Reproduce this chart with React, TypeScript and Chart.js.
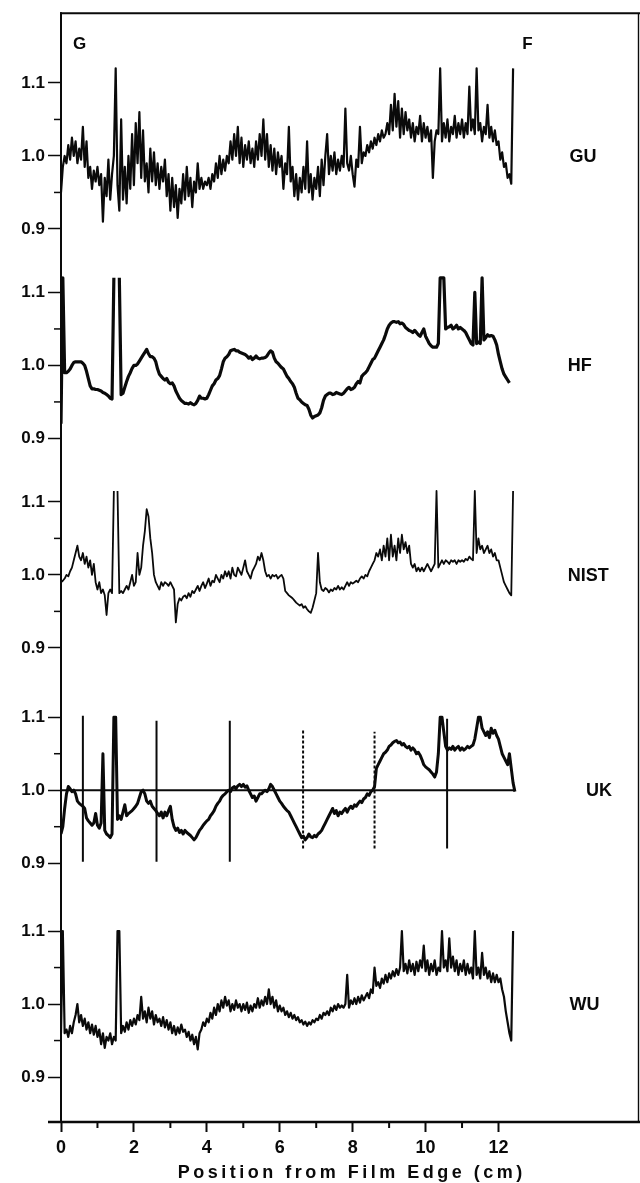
import React, { useEffect, useRef } from 'react';
import { Chart, registerables } from 'chart.js';

Chart.register(...registerables);

const STEP_CM = 0.05;

const GU_VALUES = [
  0.95, 0.985, 1.0, 0.99, 1.015, 0.995, 1.025, 1.0, 1.02, 0.99, 1.01, 0.995, 1.04, 0.985, 1.02, 0.97, 0.985, 0.955, 0.98, 0.965,
  0.985, 0.96, 0.975, 0.91, 0.97, 0.945, 0.995, 0.94, 0.975, 1.0, 1.12, 0.96, 0.925, 1.05, 0.94, 0.985, 0.935, 1.0, 0.955, 1.03,
  0.96, 1.045, 0.99, 1.06, 0.97, 1.035, 0.965, 0.99, 0.95, 1.01, 0.965, 1.005, 0.96, 0.99, 0.955, 0.985, 0.965, 0.995, 0.945, 0.975,
  0.925, 0.97, 0.93, 0.96, 0.915, 0.955, 0.935, 0.975, 0.94, 0.985, 0.945, 0.97, 0.93, 0.965, 0.95, 0.99, 0.955, 0.97, 0.955, 0.965,
  0.96, 0.97, 0.955, 0.975, 0.965, 0.99, 0.97, 1.0, 0.975, 0.995, 0.98, 1.0, 0.99, 1.02, 0.995, 1.03, 1.0, 1.04, 0.99, 1.025,
  0.985, 1.015, 0.995, 1.02, 0.99, 1.01, 0.985, 1.02, 0.995, 1.03, 1.0, 1.05, 0.995, 1.03, 0.985, 1.015, 0.98, 1.01, 0.975, 1.005,
  0.985, 1.0, 0.955, 0.99, 0.975, 1.04, 0.965, 0.985, 0.945, 0.975, 0.94, 0.97, 0.95, 0.985, 0.955, 1.02, 0.95, 0.975, 0.94, 0.97,
  0.955, 0.985, 0.945, 0.995, 0.96, 1.0, 1.03, 0.975, 1.0, 0.98, 1.005, 0.975, 0.995, 0.98, 1.0, 0.985, 1.065, 0.99, 0.98, 1.0,
  0.975, 0.958, 0.995, 0.985, 1.04, 0.99, 1.005, 1.0, 1.015, 1.005, 1.02, 1.01, 1.025, 1.015, 1.03, 1.02, 1.035, 1.025, 1.03, 1.045,
  1.03, 1.07, 1.035, 1.085, 1.04, 1.075, 1.025, 1.065, 1.03, 1.06, 1.035, 1.05, 1.025, 1.045, 1.02, 1.04, 1.03, 1.055, 1.02, 1.045,
  1.025, 1.04, 1.02, 1.035, 0.97, 1.02, 1.035, 1.03, 1.12, 1.02, 1.045, 1.025, 1.05, 1.02, 1.04, 1.03, 1.055, 1.025, 1.045, 1.03,
  1.05, 1.025, 1.045, 1.03, 1.095, 1.035, 1.05, 1.03, 1.12, 1.035, 1.045, 1.02, 1.04, 1.03, 1.07, 1.025, 1.04, 1.02, 1.035, 1.015,
  1.02, 0.995, 1.005, 0.985, 0.99, 0.97, 0.975, 0.962, 1.12, null,
];

const HF_VALUES = [
  0.92, 1.12, 0.99, 0.99, 0.992, 0.995, 1.0, 1.004, 1.005, 1.005, 1.005, 1.005, 1.003, 1.0, 0.992, 0.982, 0.972, 0.968, 0.968, 0.967,
  0.967, 0.966, 0.965, 0.963, 0.962, 0.96, 0.958, 0.955, 0.954, 1.12, null, null, 1.12, 0.96, 0.962, 0.97, 0.978, 0.985, 0.99, 0.996,
  1.0, 1.0, 1.002, 1.006, 1.01, 1.014, 1.018, 1.022, 1.016, 1.012, 1.012, 1.01, 1.005, 0.995, 0.988, 0.985, 0.982, 0.98, 0.982, 0.977,
  0.975, 0.976, 0.972, 0.965, 0.96, 0.955, 0.952, 0.95, 0.948, 0.948, 0.947, 0.949, 0.947, 0.946, 0.948, 0.952, 0.958, 0.955, 0.955, 0.954,
  0.955, 0.96, 0.966, 0.972, 0.975, 0.98, 0.982, 0.986, 0.995, 1.005, 1.01, 1.012, 1.015, 1.02, 1.021, 1.022, 1.02, 1.02, 1.018, 1.017,
  1.016, 1.015, 1.013, 1.01, 1.012, 1.008, 1.01, 1.013, 1.01, 1.009, 1.01, 1.01, 1.011, 1.013, 1.017, 1.02, 1.018, 1.01, 1.005, 1.003,
  1.0, 0.997, 0.995, 0.99, 0.985, 0.982, 0.978, 0.975, 0.97, 0.962, 0.955, 0.953, 0.95, 0.948, 0.946, 0.945, 0.94, 0.932, 0.928, 0.93,
  0.931, 0.932, 0.935, 0.942, 0.952, 0.958, 0.96, 0.962, 0.962, 0.96, 0.961, 0.963, 0.962, 0.961, 0.96, 0.962, 0.965, 0.968, 0.97, 0.967,
  0.968, 0.97, 0.975, 0.978, 0.976, 0.985, 0.988, 0.99, 0.993, 0.998, 1.003, 1.008, 1.01, 1.015, 1.02, 1.025, 1.03, 1.035, 1.042, 1.05,
  1.055, 1.058, 1.06, 1.06, 1.059, 1.06, 1.057, 1.058, 1.056, 1.052, 1.05, 1.048, 1.047, 1.045, 1.048, 1.045, 1.042, 1.04, 1.045, 1.05,
  1.04, 1.035, 1.03, 1.027, 1.025, 1.025, 1.025, 1.03, 1.12, 1.12, 1.12, 1.05, 1.052, 1.053, 1.055, 1.05, 1.052, 1.055, 1.05, 1.052,
  1.05, 1.048, 1.045, 1.04, 1.035, 1.03, 1.028, 1.1, 1.03, 1.032, 1.03, 1.12, 1.035, 1.038, 1.042, 1.04, 1.041, 1.04, 1.035, 1.028,
  1.015, 1.005, 0.995, 0.988, 0.984, 0.98, 0.976, null, null, null,
];

const NIST_VALUES = [
  0.99, 0.992, 0.995, 1.0, 0.998, 1.005, 1.01, 1.02, 1.03, 1.04, 1.025, 1.02, 1.03, 1.015, 1.025, 1.01, 1.02, 1.0, 1.015, 0.99,
  0.98, 0.99, 0.975, 0.98, 0.972, 0.945, 0.975, 0.98, 0.975, 1.115, null, 1.115, 0.975, 0.978, 0.975, 0.98, 0.985, 0.98, 0.99, 1.0,
  0.985, 0.99, 1.03, 1.0, 1.01, 1.04, 1.06, 1.09, 1.08, 1.05, 1.03, 1.0, 0.99, 0.985, 0.98, 0.99, 0.985, 0.99, 0.988, 0.985,
  0.99, 0.985, 0.98, 0.935, 0.96, 0.968, 0.965, 0.97, 0.972, 0.968, 0.975, 0.97, 0.978, 0.975, 0.98, 0.985, 0.978, 0.985, 0.99, 0.982,
  0.988, 0.995, 0.985, 0.992, 0.99, 1.0, 0.995, 0.99, 1.0, 0.995, 1.005, 0.998, 1.005, 0.995, 1.01, 1.0, 0.998, 1.01, 1.005, 1.0,
  1.01, 1.02, 1.005, 1.0, 0.995, 1.005, 1.01, 1.015, 1.025, 1.02, 1.03, 1.02, 1.005, 0.998, 1.0, 0.995, 1.0, 0.998, 1.0, 0.995,
  0.998, 1.0, 0.995, 0.978, 0.975, 0.972, 0.97, 0.968, 0.965, 0.962, 0.96, 0.958, 0.96, 0.955, 0.957, 0.953, 0.95, 0.948, 0.955, 0.965,
  0.975, 1.03, 0.99, 0.98, 0.978, 0.982, 0.98, 0.976, 0.98, 0.978, 0.982, 0.98, 0.985, 0.98, 0.983, 0.98, 0.985, 0.99, 0.985, 0.99,
  0.988, 0.99, 0.992, 0.99, 0.995, 0.998, 0.995, 1.0, 0.998, 1.005, 1.01, 1.015, 1.02, 1.03, 1.025, 1.035, 1.02, 1.04, 1.025, 1.05,
  1.02, 1.055, 1.025, 1.04, 1.02, 1.05, 1.03, 1.055, 1.035, 1.045, 1.03, 1.04, 1.015, 1.01, 1.015, 1.005, 1.01, 1.005, 1.01, 1.005,
  1.01, 1.015, 1.01, 1.005, 1.01, 1.015, 1.115, 1.01, 1.015, 1.02, 1.015, 1.02, 1.018, 1.015, 1.02, 1.018, 1.02, 1.015, 1.02, 1.018,
  1.02, 1.018, 1.022, 1.02, 1.025, 1.022, 1.02, 1.115, 1.03, 1.05, 1.035, 1.04, 1.03, 1.035, 1.04, 1.03, 1.035, 1.025, 1.03, 1.02,
  1.02, 1.01, 1.0, 0.99, 0.985, 0.98, 0.975, 0.972, 1.115, null,
];

const UK_VALUES = [
  0.94, 0.95, 0.975, 0.995, 1.005, 1.002, 0.998, 1.0, 0.995, 0.985, 0.982, 0.98, 0.978, 0.975, 0.962, 0.958, 0.955, 0.952, 0.955, 0.968,
  0.952, 0.948, 0.955, 1.05, 0.945, 0.94, 0.938, 0.935, 0.94, 1.1, 1.1, 0.96, 0.965, 0.96, 0.97, 0.98, 0.965, 0.968, 0.97, 0.972,
  0.975, 0.978, 0.982, 0.99, 0.998, 1.0, 0.995, 0.985, 0.982, 0.985, 0.978, 0.975, 0.972, 0.968, 0.965, 0.97, 0.962, 0.97, 0.965, 0.972,
  0.978, 0.96, 0.95, 0.945, 0.948, 0.942, 0.945, 0.94, 0.945, 0.942, 0.94, 0.938, 0.935, 0.932, 0.935, 0.94, 0.945, 0.948, 0.952, 0.955,
  0.958, 0.96, 0.965, 0.968, 0.972, 0.978, 0.982, 0.985, 0.99, 0.993, 0.995, 0.998, 1.0, 0.998, 1.003, 1.005, 1.002, 1.006, 1.008, 1.005,
  1.008, 1.004, 1.006, 1.0, 0.995, 0.99, 0.992, 0.985, 0.99, 0.995, 0.995, 0.998, 1.0, 0.998, 1.002, 1.008, 1.005, 1.0, 0.995, 0.99,
  0.985, 0.982, 0.978, 0.975, 0.972, 0.97, 0.965, 0.96, 0.955, 0.95, 0.945, 0.94, 0.935, 0.937, 0.932, 0.935, 0.94, 0.936, 0.935, 0.938,
  0.936, 0.94, 0.942, 0.945, 0.95, 0.955, 0.96, 0.965, 0.97, 0.975, 0.968, 0.972, 0.965, 0.97, 0.968, 0.972, 0.975, 0.97, 0.975, 0.978,
  0.975, 0.98, 0.978, 0.982, 0.985, 0.983, 0.988, 0.99, 0.995, 0.993, 0.998, 1.0, 1.005, 1.03, 1.035, 1.04, 1.045, 1.05, 1.052, 1.055,
  1.06, 1.062, 1.065, 1.067, 1.068, 1.065, 1.066, 1.062, 1.064, 1.06, 1.058, 1.06, 1.055, 1.058, 1.055, 1.05, 1.052, 1.048, 1.042, 1.035,
  1.032, 1.03, 1.028, 1.025, 1.022, 1.018, 1.025, 1.05, 1.1, 1.1, 1.08, 1.06, 1.055, 1.058, 1.056, 1.06, 1.055, 1.058, 1.06, 1.055,
  1.058, 1.055, 1.057, 1.06, 1.058, 1.06, 1.062, 1.07, 1.085, 1.1, 1.1, 1.085, 1.08, 1.075, 1.08, 1.072, 1.085, 1.078, 1.082, 1.075,
  1.07, 1.06, 1.05, 1.045, 1.04, 1.035, 1.05, 1.03, 1.01, 0.998,
];

const WU_VALUES = [
  0.96, 1.1, 0.96, 0.965, 0.955, 0.97, 0.96, 0.975, 0.985, 1.0, 0.975, 0.985, 0.97, 0.98, 0.965, 0.975, 0.96, 0.972, 0.958, 0.97,
  0.955, 0.965, 0.945, 0.96, 0.94, 0.955, 0.95, 0.96, 0.945, 0.955, 0.95, 1.1, 1.1, 0.96, 0.97, 0.962, 0.975, 0.965, 0.978, 0.97,
  0.98, 0.972, 0.985, 0.978, 1.01, 0.98, 0.99, 0.975, 0.995, 0.98, 0.99, 0.972, 0.985, 0.975, 0.98, 0.97, 0.982, 0.968, 0.978, 0.965,
  0.975, 0.96, 0.97, 0.958, 0.968, 0.96, 0.972, 0.962, 0.965, 0.955, 0.962, 0.95, 0.958, 0.945, 0.955, 0.938, 0.96, 0.965, 0.975, 0.97,
  0.98, 0.975, 0.988, 0.98, 0.995, 0.985, 1.0, 0.99, 1.005, 0.995, 1.01, 0.998, 1.005, 0.99, 1.0, 0.992, 1.005, 0.995, 1.0, 0.99,
  1.0, 0.992, 1.002, 0.988, 0.998, 0.99, 1.0, 0.995, 1.008, 0.995, 1.005, 0.998, 1.01, 1.0, 1.02, 1.0, 1.01, 0.995, 1.005, 0.99,
  0.998, 0.99, 0.995, 0.985, 0.99, 0.982, 0.988, 0.98, 0.985, 0.978, 0.982, 0.975, 0.978, 0.972, 0.976, 0.97, 0.975, 0.972, 0.978, 0.975,
  0.98, 0.978, 0.985, 0.98, 0.988, 0.985, 0.99, 0.985, 0.995, 0.99, 0.998, 0.992, 1.0, 0.995, 0.998, 0.995, 1.0, 1.04, 0.995, 1.005,
  1.0, 1.008, 1.0, 1.01, 1.002, 1.012, 1.005, 1.01, 1.015, 1.008, 1.02, 1.015, 1.05, 1.025, 1.03, 1.022, 1.035, 1.028, 1.04, 1.03,
  1.042, 1.035, 1.045, 1.038, 1.048, 1.04, 1.05, 1.1, 1.045, 1.055, 1.042, 1.06, 1.045, 1.055, 1.04, 1.058, 1.045, 1.06, 1.05, 1.08,
  1.045, 1.06, 1.04, 1.055, 1.045, 1.06, 1.04, 1.05, 1.045, 1.1, 1.05, 1.06, 1.045, 1.09, 1.05, 1.065, 1.045, 1.06, 1.04, 1.055,
  1.045, 1.06, 1.04, 1.055, 1.042, 1.05, 1.035, 1.1, 1.04, 1.05, 1.035, 1.07, 1.04, 1.05, 1.035, 1.045, 1.03, 1.042, 1.03, 1.04,
  1.03, 1.035, 1.02, 1.01, 0.99, 0.975, 0.96, 0.95, 1.1, null,
];

// UK fiducial marks (vertical lines)
const UK_MARK_X = [0.6, 2.62, 4.63, 6.64, 8.6, 10.59];
const UK_MARK_LOW = [0.902, 0.902, 0.902, 0.92, 0.92, 0.92];
const UK_MARK_HIGH = [1.102, 1.095, 1.095, 1.082, 1.08, 1.098];
const UK_MARK_DOTTED = [false, false, false, true, true, false];
const UK_REF_LEVEL = 1.0;
const UK_REF_END_CM = 12.45;

const PANEL_NAMES = ['GU', 'HF', 'NIST', 'UK', 'WU'];
const PANEL_SERIES = [GU_VALUES, HF_VALUES, NIST_VALUES, UK_VALUES, WU_VALUES];

const X_TICKS = [0, 1, 2, 3, 4, 5, 6, 7, 8, 9, 10, 11, 12];
const X_TICK_LABELS = ['0', '', '2', '', '4', '', '6', '', '8', '', '10', '', '12'];
const Y_LEVELS = [0.9, 0.95, 1.0, 1.05, 1.1];
const Y_LEVEL_LABELS = ['0.9', '', '1.0', '', '1.1'];
const X_TITLE = 'Position from Film Edge (cm)';
const EDGE_LEFT = 'G';
const EDGE_RIGHT = 'F';

// ---------- layout / style ----------
const PANEL_OFFSETS = [1.162, 0.875, 0.588, 0.293, 0];
const PANEL_LINE_WIDTHS = [2.2, 3.2, 1.8, 3.0, 2.2];
const PANEL_LABEL_X_CM = [13.95, 13.9, 13.9, 14.4, 13.95];
const X_MAX_CM = 15.84;
const Y_MIN = 0.8384;
const Y_MAX = 2.3576;
const INK = '#0a0a0a';
const FONT = '"Liberation Sans", Arial, Helvetica, sans-serif';

const Y_TICK_LIST: { value: number; label: string }[] = [];
PANEL_OFFSETS.forEach((off) => {
  Y_LEVELS.forEach((lv, j) => Y_TICK_LIST.push({ value: lv + off, label: Y_LEVEL_LABELS[j] }));
});
Y_TICK_LIST.sort((a, b) => a.value - b.value);

const line = (ctx: CanvasRenderingContext2D, x1: number, y1: number, x2: number, y2: number) => {
  ctx.beginPath();
  ctx.moveTo(x1, y1);
  ctx.lineTo(x2, y2);
  ctx.stroke();
};

const framePlugin = {
  id: 'frameAndText',
  afterDraw(chart: any) {
    const { ctx, chartArea: a, scales } = chart;
    const xs = scales.x;
    const ys = scales.y;
    ctx.save();
    ctx.strokeStyle = INK;
    ctx.lineCap = 'butt';
    // frame
    ctx.lineWidth = 2;
    line(ctx, a.left, a.top - 1, a.left, a.bottom);
    line(ctx, a.left - 1, a.top, chart.width, a.top);
    ctx.lineWidth = 1.4;
    line(ctx, a.right, a.top, a.right, a.bottom);
    ctx.lineWidth = 2.5;
    line(ctx, 48, a.bottom, chart.width, a.bottom);
    // minor ticks
    ctx.lineWidth = 2;
    X_TICKS.forEach((v, i) => {
      if (!X_TICK_LABELS[i]) {
        const px = xs.getPixelForValue(v);
        line(ctx, px, a.bottom, px, a.bottom + 6);
      }
    });
    ctx.lineWidth = 1.5;
    Y_TICK_LIST.forEach((t) => {
      if (!t.label) {
        const py = ys.getPixelForValue(t.value);
        line(ctx, a.left - 7, py, a.left, py);
      }
    });
    // texts
    ctx.fillStyle = INK;
    ctx.textBaseline = 'middle';
    ctx.textAlign = 'left';
    ctx.font = `bold 17px ${FONT}`;
    ctx.fillText(EDGE_LEFT, xs.getPixelForValue(0.33), a.top + 31);
    ctx.fillText(EDGE_RIGHT, xs.getPixelForValue(12.65), a.top + 31);
    ctx.font = `bold 18px ${FONT}`;
    PANEL_NAMES.forEach((name, i) => {
      ctx.fillText(name, xs.getPixelForValue(PANEL_LABEL_X_CM[i]), ys.getPixelForValue(1.0 + PANEL_OFFSETS[i]) + 1);
    });
    ctx.font = `bold 18px ${FONT}`;
    ctx.textAlign = 'center';
    ctx.textBaseline = 'alphabetic';
    try { (ctx as any).letterSpacing = '3.5px'; } catch (e) { /* ignore */ }
    ctx.fillText(X_TITLE, (a.left + a.right) / 2 + 2, a.bottom + 56);
    ctx.restore();
  },
};

export default function App() {
  const ref = useRef<HTMLCanvasElement | null>(null);

  useEffect(() => {
    document.body.style.margin = '0';
    document.body.style.background = '#ffffff';
    const canvas = ref.current;
    if (!canvas) return;

    const datasets: any[] = PANEL_SERIES.map((vals, i) => ({
      label: PANEL_NAMES[i],
      data: vals.map((v, k) => ({ x: k * STEP_CM, y: v === null ? null : v + PANEL_OFFSETS[i] })),
      borderColor: INK,
      borderWidth: PANEL_LINE_WIDTHS[i],
      borderJoinStyle: 'round',
      pointRadius: 0,
      tension: 0,
      spanGaps: false,
      fill: false,
    }));

    const ukOff = PANEL_OFFSETS[3];
    datasets.push({
      label: 'UK reference',
      data: [
        { x: 0, y: UK_REF_LEVEL + ukOff },
        { x: UK_REF_END_CM, y: UK_REF_LEVEL + ukOff },
      ],
      borderColor: INK,
      borderWidth: 2,
      pointRadius: 0,
      fill: false,
    });
    [false, true].forEach((dotted) => {
      const pts: any[] = [];
      UK_MARK_X.forEach((mx, i) => {
        if (UK_MARK_DOTTED[i] !== dotted) return;
        pts.push({ x: mx, y: UK_MARK_LOW[i] + ukOff });
        pts.push({ x: mx, y: UK_MARK_HIGH[i] + ukOff });
        pts.push({ x: mx, y: null });
      });
      datasets.push({
        label: dotted ? 'UK marks dotted' : 'UK marks',
        data: pts,
        borderColor: INK,
        borderWidth: 2,
        borderDash: dotted ? [3, 2] : [],
        pointRadius: 0,
        spanGaps: false,
        fill: false,
      });
    });

    const chart = new Chart(canvas, {
      type: 'line',
      data: { datasets },
      options: {
        animation: false,
        responsive: false,
        devicePixelRatio: 1,
        parsing: false as any,
        normalized: true,
        layout: { padding: { top: 13, right: 1.5, left: 0, bottom: 0 } },
        plugins: { legend: { display: false }, tooltip: { enabled: false }, title: { display: false } },
        scales: {
          x: {
            type: 'linear',
            min: 0,
            max: X_MAX_CM,
            afterFit: (s: any) => { s.height = 61; },
            afterBuildTicks: (s: any) => { s.ticks = X_TICKS.map((v) => ({ value: v })); },
            border: { display: false },
            grid: {
              display: true,
              drawOnChartArea: false,
              drawTicks: true,
              tickLength: 10,
              tickWidth: 2,
              tickColor: (c: any) => (X_TICK_LABELS[c.index] ? INK : 'rgba(0,0,0,0)'),
            },
            ticks: {
              autoSkip: false,
              maxRotation: 0,
              padding: 5,
              color: INK,
              font: { family: FONT, size: 18, weight: 'bold' },
              callback: (_v: any, i: number) => X_TICK_LABELS[i] ?? '',
            },
          },
          y: {
            type: 'linear',
            min: Y_MIN,
            max: Y_MAX,
            afterFit: (s: any) => { s.width = 61; },
            afterBuildTicks: (s: any) => { s.ticks = Y_TICK_LIST.map((t) => ({ value: t.value })); },
            border: { display: false },
            grid: {
              display: true,
              drawOnChartArea: false,
              drawTicks: true,
              tickLength: 13,
              tickWidth: 1.5,
              tickColor: (c: any) => (Y_TICK_LIST[c.index] && Y_TICK_LIST[c.index].label ? INK : 'rgba(0,0,0,0)'),
            },
            ticks: {
              autoSkip: false,
              padding: 3,
              color: INK,
              font: { family: FONT, size: 17, weight: 'bold' },
              callback: (_v: any, i: number) => (Y_TICK_LIST[i] ? Y_TICK_LIST[i].label : ''),
            },
          },
        },
      },
      plugins: [framePlugin],
    });

    return () => chart.destroy();
  }, []);

  return (
    <div style={{ width: 640, height: 1183, background: '#ffffff' }}>
      <canvas ref={ref} width={640} height={1183} style={{ display: 'block', width: 640, height: 1183 }} />
    </div>
  );
}
